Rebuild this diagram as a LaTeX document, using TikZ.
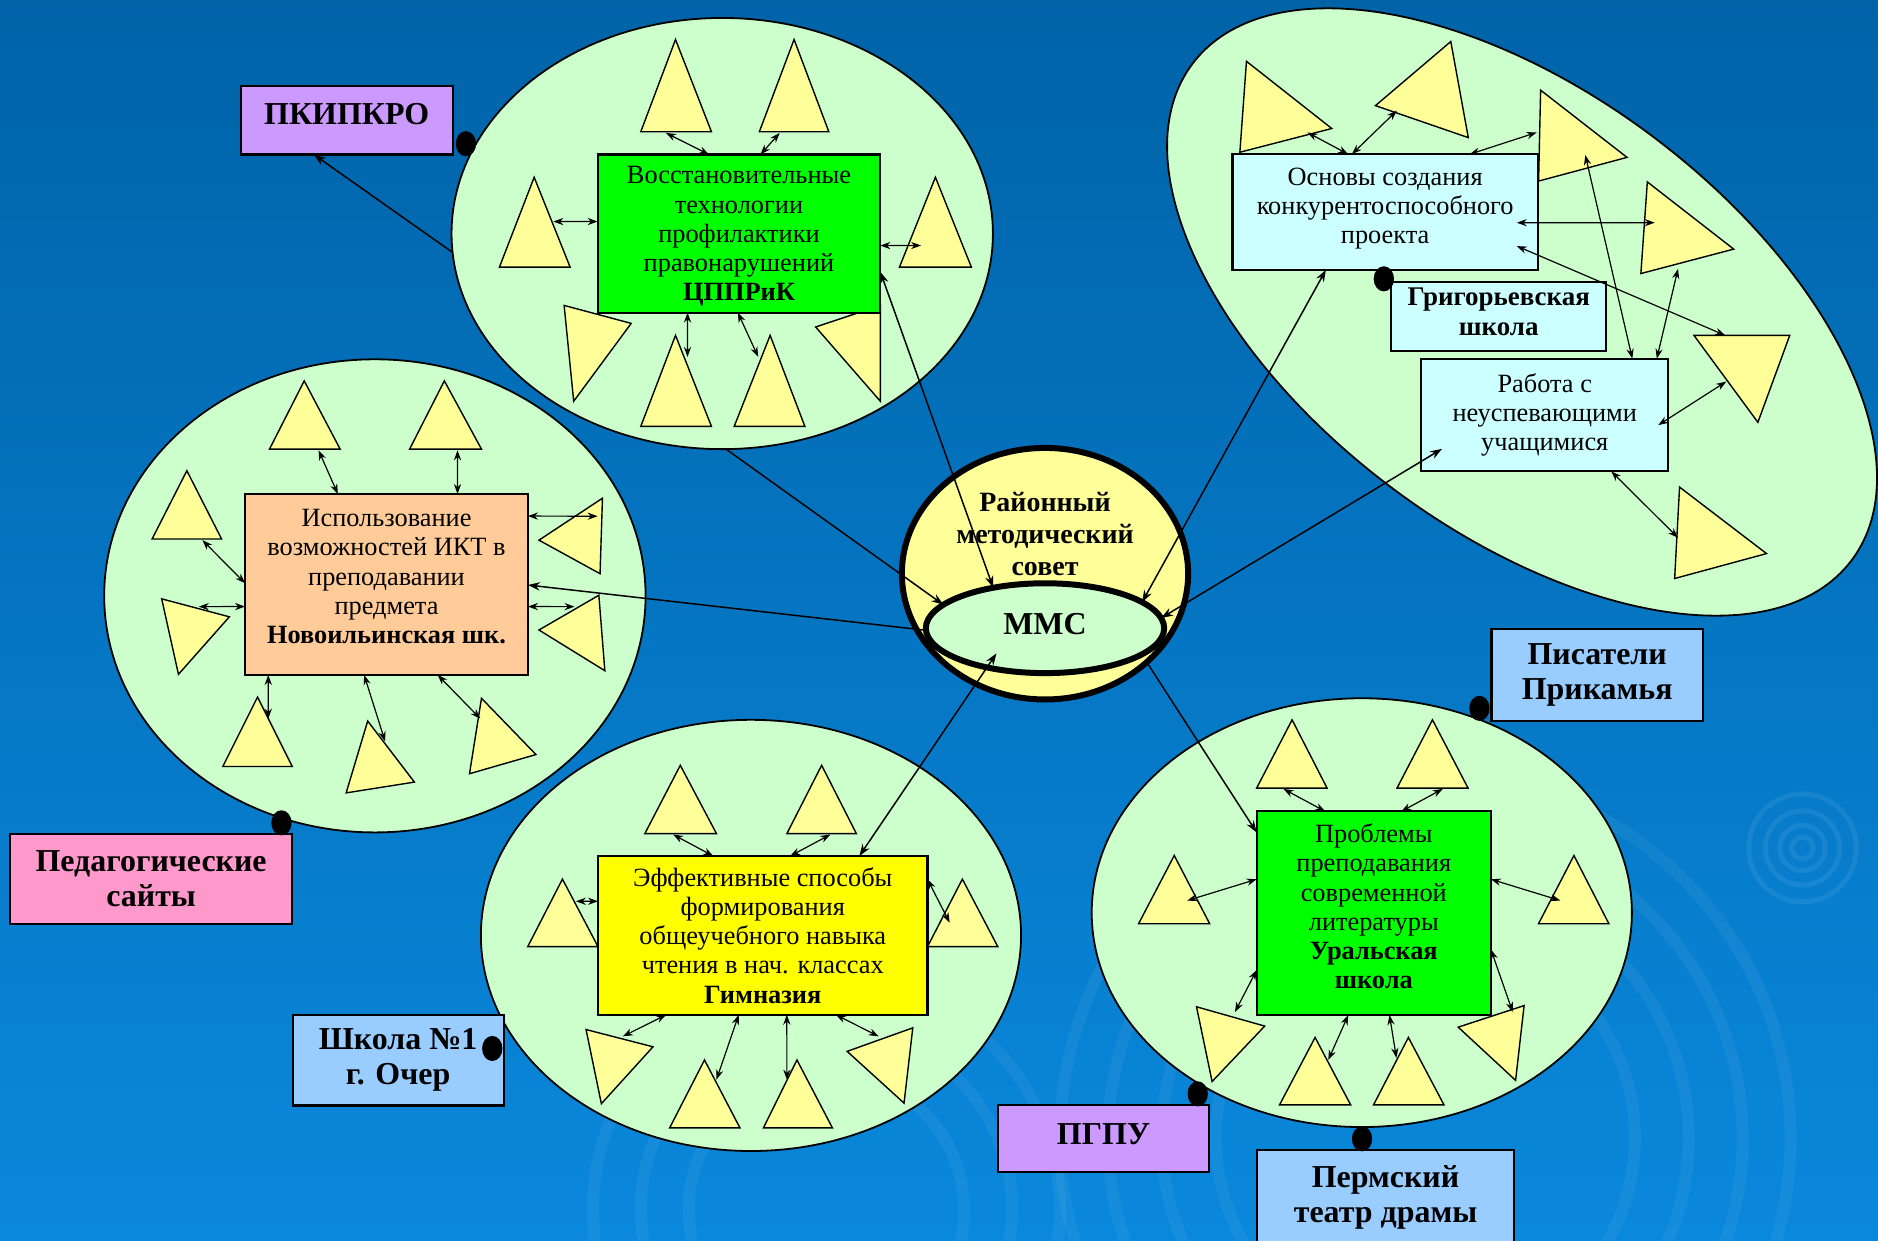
\documentclass[tikz,border=0pt]{standalone}
\usepackage{fontspec}
\setmainfont{Liberation Serif}
\usetikzlibrary{shapes.geometric,arrows.meta,calc}
\def\ux{0.6pt}
\definecolor{bgtop}{HTML}{0063A8}
\definecolor{bgbot}{HTML}{0A88DC}
\definecolor{ellfill}{HTML}{CCFFCC}
\definecolor{trifill}{HTML}{FFFF99}
\definecolor{gbox}{HTML}{00FF00}
\definecolor{obox}{HTML}{FFCC99}
\definecolor{ybox}{HTML}{FFFF00}
\definecolor{cbox}{HTML}{CCFFFF}
\definecolor{lbbox}{HTML}{99CCFF}
\definecolor{vbox}{HTML}{CC99FF}
\definecolor{pbox}{HTML}{FF99CC}
\tikzset{
  ell/.style={ellipse, draw=black, line width=0.9pt, fill=ellfill, inner sep=0pt, outer sep=0pt},
  box/.style={rectangle, draw=black, line width=1.05pt, inner sep=0pt, outer sep=0pt, align=center,
    font=\fontsize{13.2}{14.6}\selectfont},
  lab/.style={box, font=\bfseries\fontsize{16}{17.6}\selectfont},
  tri/.style={draw=black, line width=0.7pt, fill=trifill, line join=miter},
  sarr/.style={{Stealth[length=5pt,width=3.6pt]}-{Stealth[length=5pt,width=3.6pt]}, line width=0.6pt},
  marr/.style={line width=0.75pt},
  mtwo/.style={marr, {Stealth[length=6pt,width=4.2pt]}-{Stealth[length=6pt,width=4.2pt]}},
  mone/.style={marr, -{Stealth[length=6pt,width=4.2pt]}},
  dot/.style={ellipse, fill=black, draw=none, minimum width=17*\ux, minimum height=21*\ux, inner sep=0pt},
  ripple/.style={draw=white, draw opacity=0.05, line width=6pt},
}
\begin{document}
\begin{tikzpicture}[x=0.6pt, y=-0.6pt]
\useasboundingbox (0,0) rectangle (1568,1036.15);
% background
\shade[top color=bgtop, bottom color=bgbot] (0,0) rectangle (1568,1036.15);
\foreach \r in {9,19,31,45} \draw[draw=white, draw opacity=0.07, line width=2.5pt] (1505,708) circle (\r);
\foreach \r in {175,220,265,305} \draw[ripple] (1190,950) circle (\r);
\foreach \r in {115,155,195} \draw[ripple] (690,1010) circle (\r);

% ===== ellipses =====
\node[ell, minimum width=452*\ux, minimum height=360*\ux] (E1) at (603,195) {};
\node[ell, minimum width=452*\ux, minimum height=395*\ux] (E2) at (313,497.5) {};
\node[ell, minimum width=451*\ux, minimum height=360*\ux] (E3) at (627,781) {};
\node[ell, minimum width=451*\ux, minimum height=358*\ux] (E4) at (1137,762) {};
\node[ell, minimum width=689*\ux, minimum height=365.4*\ux, rotate=-37] (E5) at (1270.8,260.5) {};

% ===== triangles: top ellipse =====
\draw[tri] (564,33) -- (535,110) -- (594,110) -- cycle;
\draw[tri] (663,33) -- (634,110) -- (692,110) -- cycle;
\draw[tri] (446,148) -- (417,223) -- (476,223) -- cycle;
\draw[tri] (781,148) -- (751,223) -- (811,223) -- cycle;
\draw[tri] (471,255) -- (527,270) -- (479,335) -- cycle;
\draw[tri] (564,280) -- (535,356) -- (594,356) -- cycle;
\draw[tri] (643,280) -- (613,356) -- (672,356) -- cycle;
\draw[tri] (681,273) -- (735,255) -- (735,335) -- cycle;
% left ellipse
\draw[tri] (254,318) -- (225,375) -- (284,375) -- cycle;
\draw[tri] (371,318) -- (342,375) -- (402,375) -- cycle;
\draw[tri] (156,393) -- (127,450) -- (185,450) -- cycle;
\draw[tri] (135,500) -- (191.5,515) -- (149,563) -- cycle;
\draw[tri] (503,416) -- (450,451) -- (501,479) -- cycle;
\draw[tri] (500,497) -- (450,526) -- (505,560) -- cycle;
\draw[tri] (215,582) -- (186,640) -- (244,640) -- cycle;
\draw[tri] (307,602) -- (289,662) -- (346,653) -- cycle;
\draw[tri] (402,583) -- (392,646) -- (447.5,630) -- cycle;
% bottom ellipse
\draw[tri] (568,639) -- (538.4,696) -- (598.2,696) -- cycle;
\draw[tri] (686,639) -- (657,696) -- (715,696) -- cycle;
\draw[tri] (469.6,734) -- (440.6,790.4) -- (499.3,790.4) -- cycle;
\draw[tri] (803.5,734) -- (774.4,790.4) -- (833.1,790.4) -- cycle;
\draw[tri] (489.3,859.6) -- (545.2,874) -- (502.1,921.5) -- cycle;
\draw[tri] (588.2,885) -- (559.1,941.7) -- (617.8,941.7) -- cycle;
\draw[tri] (665.4,885) -- (637.4,941.7) -- (695,941.7) -- cycle;
\draw[tri] (707.3,877.8) -- (762.1,858.2) -- (754.8,921) -- cycle;
% bottom-right ellipse
\draw[tri] (1078.8,601) -- (1049.2,658) -- (1108,658) -- cycle;
\draw[tri] (1196,601) -- (1166.4,658) -- (1225.7,658) -- cycle;
\draw[tri] (980.4,714.3) -- (950.6,771.3) -- (1010,771.3) -- cycle;
\draw[tri] (1314.1,714.3) -- (1284.5,771.3) -- (1343.3,771.3) -- cycle;
\draw[tri] (999,840.6) -- (1055.9,856.7) -- (1012,903) -- cycle;
\draw[tri] (1098,866.2) -- (1068.3,922.5) -- (1127.7,922.5) -- cycle;
\draw[tri] (1175.9,866.2) -- (1146.8,922.5) -- (1205.6,922.5) -- cycle;
\draw[tri] (1217.5,857.6) -- (1272.5,839.6) -- (1265.4,902) -- cycle;
% right tilted ellipse
\draw[tri] (1040.7,51.2) -- (1111.9,107.3) -- (1035.2,127.1) -- cycle;
\draw[tri] (1211.3,34.7) -- (1225.9,114.9) -- (1148.4,88.2) -- cycle;
\draw[tri] (1286.3,75.3) -- (1358.4,131.4) -- (1284.6,151.2) -- cycle;
\draw[tri] (1375.4,151.9) -- (1447.5,208) -- (1370,228.4) -- cycle;
\draw[tri] (1414.3,280) -- (1494.3,280) -- (1467.7,352.6) -- cycle;
\draw[tri] (1402.3,406.7) -- (1474.9,462.2) -- (1398.2,483) -- cycle;

% ===== central council =====
\node[ell, fill=trifill, line width=3pt, minimum width=239*\ux, minimum height=210*\ux] (rms) at (872.5,479) {};
\node[align=center, inner sep=0pt, font=\bfseries\fontsize{14}{16}\selectfont] (rmstext) at (872.5,446) {Районный\\методический\\совет};
\node[ell, line width=3pt, minimum width=199*\ux, minimum height=75*\ux, text depth=4pt,
  font=\bfseries\fontsize{16}{18}\selectfont] (mmc) at (872.5,524.5) {ММС};

% ===== boxes =====
\node[box, fill=gbox, minimum width=236*\ux, minimum height=132*\ux, text depth=0pt] (G1) at (617,195)
  {Восстановительные\\технологии\\профилактики\\правонарушений\\\textbf{ЦППРиК}};
\node[box, fill=obox, minimum width=236.2*\ux, minimum height=151.1*\ux, text depth=8pt] (OB) at (322.7,488)
  {Использование\\возможностей ИКТ в\\преподавании\\предмета\\\textbf{Новоильинская шк.}};
\node[box, fill=ybox, minimum width=275.1*\ux, minimum height=132.5*\ux] (Y1) at (636.85,781)
  {Эффективные способы\\формирования\\общеучебного навыка\\чтения в нач. классах\\\textbf{Гимназия}};
\node[box, fill=gbox, minimum width=195.6*\ux, minimum height=170*\ux, text depth=7pt] (G2) at (1147,762.5)
  {Проблемы\\преподавания\\современной\\литературы\\\textbf{Уральская}\\\textbf{школа}};
\node[box, fill=cbox, minimum width=255*\ux, minimum height=96.5*\ux, text depth=6pt] (O1) at (1156.5,177)
  {Основы создания\\конкурентоспособного\\проекта};
\node[box, fill=cbox, minimum width=179.4*\ux, minimum height=57.8*\ux, text depth=4.5pt,
  font=\bfseries\fontsize{13.5}{14.6}\selectfont] (GR) at (1251.3,264)
  {Григорьевская\\школа};
\node[box, fill=cbox, minimum width=206.5*\ux, minimum height=94.1*\ux] (RB) at (1289.75,346.5)
  {Работа с\\неуспевающими\\учащимися};

\node[lab, fill=vbox, minimum width=177*\ux, minimum height=57*\ux] (pk) at (289.5,100.5) {\raisebox{6pt}{ПКИПКРО}};
\node[lab, fill=pbox, minimum width=235.6*\ux, minimum height=75.5*\ux] (ped) at (126.2,733.75) {Педагогические\\сайты};
\node[lab, fill=lbbox, minimum width=176.2*\ux, minimum height=75.8*\ux] (shk) at (332.4,885.1) {Школа №1\\г. Очер};
\node[lab, fill=lbbox, minimum width=176.4*\ux, minimum height=76.2*\ux] (pis) at (1333.5,563.6) {Писатели\\Прикамья};
\node[lab, fill=vbox, minimum width=176*\ux, minimum height=56.4*\ux] (pgpu) at (921.5,950.7) {\raisebox{4.5pt}{ПГПУ}};
\node[lab, fill=lbbox, minimum width=215.2*\ux, minimum height=80*\ux] (perm) at (1156.8,1000) {Пермский\\театр драмы};

% ===== named coordinates on triangles =====
\coordinate (t1) at (556,111);   \coordinate (t2) at (651,111);
\coordinate (t3) at (462,185);   \coordinate (t4) at (769,205);
\coordinate (t5) at (574,298);   \coordinate (t6) at (633,298);
\coordinate (l1) at (266,376);   \coordinate (l2) at (382,376);
\coordinate (l3) at (169,451);   \coordinate (l4) at (166,506.5);
\coordinate (l5) at (499,431);   \coordinate (l6) at (479.7,506.5);
\coordinate (l7) at (224,600);   \coordinate (l8) at (321.5,619);
\coordinate (l9) at (401,600);
\coordinate (b1) at (562,696.8); \coordinate (b2) at (693.3,696.8);
\coordinate (b3) at (480.8,752.5); \coordinate (b4) at (792.9,770.3);
\coordinate (b5) at (520,865.3); \coordinate (b6) at (598.2,901.4);
\coordinate (b7) at (657,901.4); \coordinate (b8) at (733.6,865.3);
\coordinate (p1) at (1071.6,658.7); \coordinate (p2) at (1204.6,658.7);
\coordinate (p3) at (991.3,751.9); \coordinate (p4) at (1302.7,751.9);
\coordinate (p5) at (1031.1,845); \coordinate (p6) at (1109,885);
\coordinate (p7) at (1165.9,883.3); \coordinate (p8) at (1263,845);
\coordinate (r1) at (1091.6,110.6); \coordinate (r2) at (1166.2,92.4);
\coordinate (r3) at (1283,110.6); \coordinate (r4) at (1381.6,185.9);
\coordinate (r5) at (1440.4,280); \coordinate (r6) at (1323.6,129.4);
\coordinate (r7) at (1401,224.5); \coordinate (r8) at (1441.3,318.6);
\coordinate (r9) at (1401,449);

% ===== small arrows =====
\draw[sarr] (t1) -- ($(G1.north west)!0.394!(G1.north east)$);
\draw[sarr] (t2) -- ($(G1.north west)!0.576!(G1.north east)$);
\draw[sarr] (t3) -- ($(G1.north west)!0.424!(G1.south west)$);
\draw[sarr] ($(G1.north east)!0.576!(G1.south east)$) -- (t4);
\draw[sarr] ($(G1.south west)!0.318!(G1.south east)$) -- (t5);
\draw[sarr] ($(G1.south west)!0.496!(G1.south east)$) -- (t6);

\draw[sarr] (l1) -- ($(OB.north west)!0.328!(OB.north east)$);
\draw[sarr] (l2) -- ($(OB.north west)!0.751!(OB.north east)$);
\draw[sarr] (l3) -- ($(OB.north west)!0.493!(OB.south west)$);
\draw[sarr] (l4) -- ($(OB.north west)!0.622!(OB.south west)$);
\draw[sarr] ($(OB.north east)!0.122!(OB.south east)$) -- (l5);
\draw[sarr] ($(OB.north east)!0.622!(OB.south east)$) -- (l6);
\draw[sarr] ($(OB.south west)!0.082!(OB.south east)$) -- (l7);
\draw[sarr] ($(OB.south west)!0.421!(OB.south east)$) -- (l8);
\draw[sarr] ($(OB.south west)!0.681!(OB.south east)$) -- (l9);

\draw[sarr] (b1) -- ($(Y1.north west)!0.35!(Y1.north east)$);
\draw[sarr] (b2) -- ($(Y1.north west)!0.583!(Y1.north east)$);
\draw[sarr] (b3) -- ($(Y1.north west)!0.285!(Y1.south west)$);
\draw[sarr] ($(Y1.north east)!0.147!(Y1.south east)$) -- (b4);
\draw[sarr] ($(Y1.south west)!0.207!(Y1.south east)$) -- (b5);
\draw[sarr] ($(Y1.south west)!0.427!(Y1.south east)$) -- (b6);
\draw[sarr] ($(Y1.south west)!0.573!(Y1.south east)$) -- (b7);
\draw[sarr] ($(Y1.south west)!0.722!(Y1.south east)$) -- (b8);

\draw[sarr] (p1) -- ($(G2.north west)!0.293!(G2.north east)$);
\draw[sarr] (p2) -- ($(G2.north west)!0.617!(G2.north east)$);
\draw[sarr] (p3) -- ($(G2.north west)!0.333!(G2.south west)$);
\draw[sarr] ($(G2.north east)!0.333!(G2.south east)$) -- (p4);
\draw[sarr] ($(G2.north west)!0.779!(G2.south west)$) -- (p5);
\draw[sarr] ($(G2.south west)!0.391!(G2.south east)$) -- (p6);
\draw[sarr] ($(G2.south west)!0.567!(G2.south east)$) -- (p7);
\draw[sarr] ($(G2.north east)!0.678!(G2.south east)$) -- (p8);

\draw[sarr] (r1) -- ($(O1.north west)!0.379!(O1.north east)$);
\draw[sarr] (r2) -- ($(O1.north west)!0.391!(O1.north east)$);
\draw[sarr] (r3) -- ($(O1.north west)!0.777!(O1.north east)$);
\draw[sarr] ($(O1.north east)+(-17.6,57.2)$) -- (r4);
\draw[sarr] ($(O1.north east)+(-17.6,76.7)$) -- (r5);
\draw[sarr] (r6) -- ($(RB.north west)!0.854!(RB.north east)$);
\draw[sarr] (r7) -- ($(RB.north west)!0.953!(RB.north east)$);
\draw[sarr] ($(RB.north east)+(-8.5,55.5)$) -- (r8);
\draw[sarr] ($(RB.south west)!0.769!(RB.south east)$) -- (r9);

% ===== main connectors =====
\draw[mone] (E1.184.8) -- (pk.226);
\draw[mtwo] ($(G1.north east)!0.742!(G1.south east)$) -- (mmc.142);
\draw[mone] (E1.-89.4) -- (mmc.167);
\draw[mtwo] ($(O1.south west)!0.306!(O1.south east)$) -- (mmc.15);
\draw[mtwo] ($(RB.south west)+(17.5,-18.8)$) -- (mmc.5);
\draw[mtwo] ($(Y1.north west)!0.793!(Y1.north east)$) -- ($(mmc.center)+(-40.5,21)$);
\draw[mone] (rms.-41.6) -- ($(G2.north west)!0.103!(G2.south west)$);
\draw[mone] (mmc.181) -- ($(OB.north east)!0.503!(OB.south east)$);

% ===== attachment dots =====
\node[dot] (dpk) at (389,120) {};
\node[dot] (dped) at (235,687) {};
\node[dot] (dshk) at (411,875.4) {};
\node[dot] (dpis) at (1235.2,591.4) {};
\node[dot] (dpgpu) at (1000,913.3) {};
\node[dot] (dperm) at (1137.2,950.8) {};
\node[dot] (dgr) at (1155.4,232.8) {};
\end{tikzpicture}
\end{document}
